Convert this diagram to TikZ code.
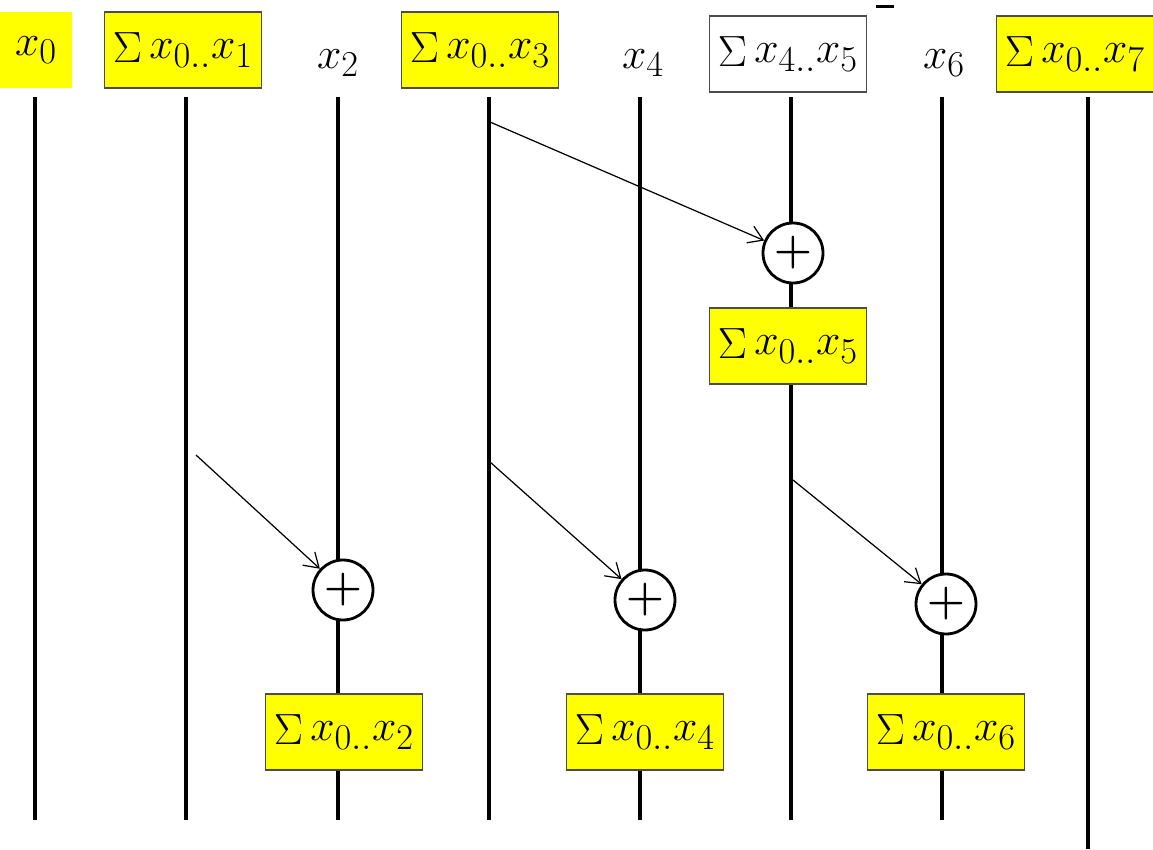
\documentclass[tikz,border=0pt]{standalone}
\usepackage{amsmath}
\usepackage{tikz}
\usetikzlibrary{arrows.meta,calc,backgrounds}
\definecolor{boxyellow}{RGB}{255,255,0}
\newcommand{\psum}[2]{$\mathop{\Sigma}\nolimits x_{#1..}x_{#2}$}
\newcommand{\bigfont}{\Huge}
\tikzset{
    sum box/.style={draw=black!70,fill=boxyellow,line width=0.6pt,
      minimum width=3.14cm,minimum height=1.52cm,inner sep=0pt,font=\bigfont},
    part box/.style={sum box,fill=white},
    first box/.style={sum box,draw=none,minimum width=1.44cm},
    plain label/.style={inner sep=0pt,font=\bigfont},
    add node/.style={circle,draw=black,fill=white,line width=1.6pt,
      minimum size=1.2cm,inner sep=0pt,font=\Huge},
    lane line/.style={line width=2.8pt,draw=black},
    add line/.style={draw=black,line width=0.7pt,
      -{Straight Barb[length=2.8mm,width=3.6mm]}}
}

\begin{document}
\begin{tikzpicture}[x=0.02cm,y=-0.02cm]
  \useasboundingbox (0,0) rectangle (1153,849);

  % top row
  \node[first box] (t0) at (36,50) {$x_0$};
  \node[sum box] (t1) at (183,50) {\psum{0}{1}};
  \node[plain label] (t2) at (338,63) {$x_2$};
  \node[sum box] (t3) at (480,50) {\psum{0}{3}};
  \node[plain label] (t4) at (643,63) {$x_4$};
  \node[part box] (t5) at (788,54) {\psum{4}{5}};
  \node[plain label] (t6) at (944,63) {$x_6$};
  \node[sum box] (t7) at (1075,54) {\psum{0}{7}};
  \fill (876,5) rectangle (894,8);

  % lanes
  \foreach \i/\x in {0/35,1/186,2/338,3/489,4/640,5/791,6/942}{
    \coordinate (top\i) at (\x,97);
    \coordinate (bot\i) at (\x,820);
  }
  \coordinate (top7) at (1088,97);
  \coordinate (bot7) at (1088,849);
  \begin{pgfonlayer}{background}
    \foreach \i in {0,...,7}
      \draw[lane line] (top\i) -- (bot\i);
  \end{pgfonlayer}

  % first step
  \node[add node] (p5) at (793,253) {$\boldsymbol{+}$};
  \node[sum box] (r5) at (788,346) {\psum{0}{5}};
  \coordinate (s3a) at (490,122);
  \draw[add line] (s3a) -- (p5);

  % second step
  \node[add node] (p2) at (343,590) {$\boldsymbol{+}$};
  \node[add node] (p4) at (645,600) {$\boldsymbol{+}$};
  \node[add node] (p6) at (946,604) {$\boldsymbol{+}$};
  \node[sum box] (r2) at (344,732) {\psum{0}{2}};
  \node[sum box] (r4) at (645,732) {\psum{0}{4}};
  \node[sum box] (r6) at (946,732) {\psum{0}{6}};
  \coordinate (s1) at (196,455);
  \coordinate (s3b) at (490,462);
  \coordinate (s5) at (793,480);
  \draw[add line] (s1) -- (p2);
  \draw[add line] (s3b) -- (p4);
  \draw[add line] (s5) -- (p6);

\end{tikzpicture}
\end{document}
